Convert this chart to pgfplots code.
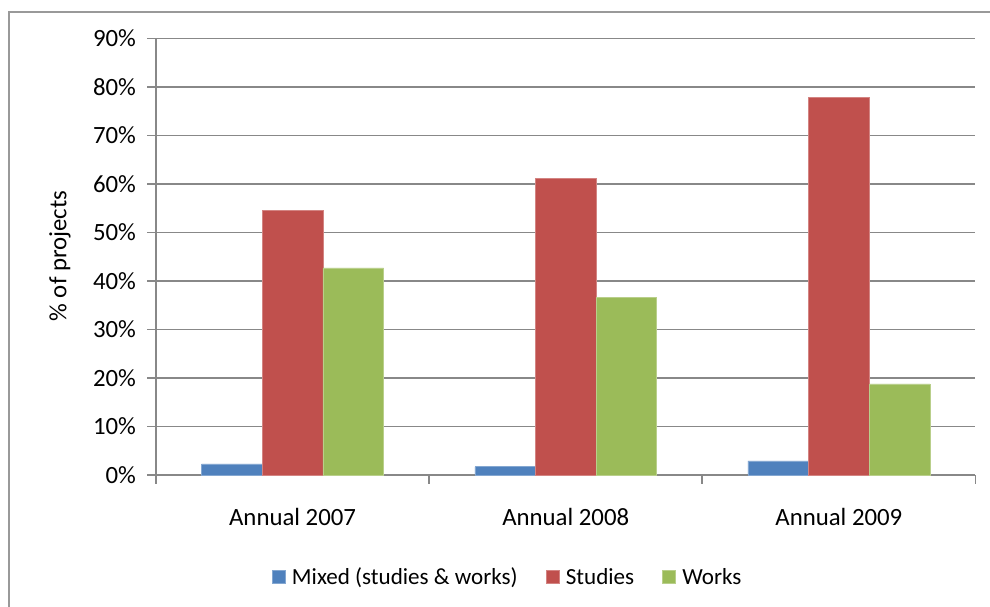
\documentclass[border=0pt]{standalone}
\usepackage{pgfplots}
\pgfplotsset{compat=1.18}
\usepackage{fontspec}
\setmainfont{Carlito}
\definecolor{cBlue}{HTML}{4F81BD}
\definecolor{cRed}{HTML}{C0504D}
\definecolor{cGreen}{HTML}{9BBB59}
\definecolor{cGrid}{HTML}{888888}
\definecolor{cFrame}{HTML}{999999}
\begin{document}
\begin{tikzpicture}[x=0.75pt,y=0.75pt]
\useasboundingbox (0,0) rectangle (990,607);
\draw[cFrame, line width=1.2pt] (9,595) rectangle (1020,-40);
\begin{axis}[
  at={(156pt*0.75,132pt*0.75)}, anchor=south west,
  scale only axis,
  width=614.6pt, height=327.4pt,
  xmin=-0.5, xmax=2.5,
  ymin=0, ymax=90,
  axis x line=bottom, axis y line=left,
  axis line style={-, cGrid, line width=1.3pt},
  ymajorgrids, grid style={cGrid, line width=1.3pt},
  ytick={0,10,...,90},
  yticklabels={0\%,10\%,20\%,30\%,40\%,50\%,60\%,70\%,80\%,90\%},
  xtick={0,1,2},
  xticklabels={Annual 2007,Annual 2008,Annual 2009},
  minor xtick={-0.5,0.5,1.5,2.5},
  tick align=outside,
  major tick length=6.5pt,
  minor tick length=6.5pt,
  x tick style={draw=none},
  minor x tick style={draw=cGrid, line width=1.3pt},
  y tick style={cGrid, line width=1.3pt},
  tick label style={font=\fontsize{18.6}{22}\selectfont, text=black},
  yticklabel style={xshift=-5pt},
  xticklabel style={yshift=-15pt},
  ybar=0pt, bar width=0.222,
  legend style={at={(0.4295,-0.2337)}, anchor=center, legend columns=3,
    draw=none, font=\fontsize{17.3}{21}\selectfont,
    /tikz/every odd column/.append style={column sep=3pt},
    /tikz/every even column/.append style={column sep=19pt}},
  legend image code/.code={\fill[#1] (0pt,-4.9pt) rectangle (9.75pt,4.9pt);},
  clip=false,
]
\addplot[fill=cBlue, draw=cBlue!70!white, line width=0.4pt, bar shift=-0.222] coordinates {(0,2.3) (1,1.7) (2,2.9)};
\addlegendentry{Mixed (studies \& works)}
\addplot[fill=cRed, draw=cRed!70!white, line width=0.4pt, bar shift=0] coordinates {(0,54.6) (1,61.2) (2,77.9)};
\addlegendentry{Studies}
\addplot[fill=cGreen, draw=cGreen!70!white, line width=0.4pt, bar shift=0.222] coordinates {(0,42.7) (1,36.6) (2,18.8)};
\addlegendentry{Works}
\end{axis}
\node[rotate=90, font=\fontsize{18.6}{22}\selectfont] at (60,351) {\% of projects};
\end{tikzpicture}
\end{document}
